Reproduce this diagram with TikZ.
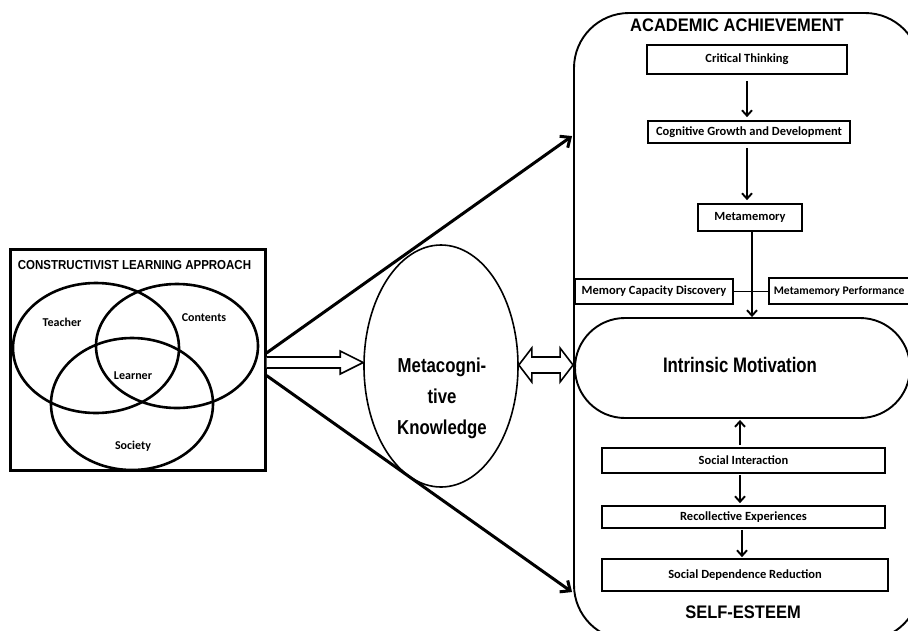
\documentclass[tikz,border=0pt]{standalone}
\usepackage{graphicx}
\usepackage{fontspec}
\setmainfont{Liberation Sans}
\newfontfamily\calfont{Carlito}
\usetikzlibrary{shapes.geometric,arrows.meta,calc}
\begin{document}
\begin{tikzpicture}[x=1pt,y=-1pt,
  box/.style={draw, line width=1.7pt, inner sep=0pt, font=\calfont\bfseries\fontsize{12.5}{14}\selectfont},
  head/.style={font=\bfseries\fontsize{16.5}{18}\selectfont},
  arr/.style={line width=1.9pt, -{Straight Barb[length=5.5pt,width=10pt]}},
  diag/.style={line width=3pt, -{Straight Barb[length=8pt,width=14pt]}},
  hollow/.style={draw, fill=white, line width=1.6pt, line join=miter},
  venn/.style={draw, ellipse, line width=2.6pt, inner sep=0pt},
  vlab/.style={font=\calfont\bfseries\fontsize{12}{14}\selectfont}]
\fill[white] (0,0) rectangle (908,630);
\clip (0,0) rectangle (908,630);

% ---- left block
\node[draw, line width=3pt, minimum width=255pt, minimum height=221pt, inner sep=0pt] (lb) at (137.5,359.5) {};
\node[font=\bfseries\fontsize{11.5}{13}\selectfont] (lbt) at (134.5,265) {\scalebox{1}[1.13]{CONSTRUCTIVIST LEARNING APPROACH}};
\node[venn, minimum width=166pt, minimum height=130pt] (tv) at (96,348) {};
\node[venn, minimum width=162pt, minimum height=124pt] (cv) at (177,346) {};
\node[venn, minimum width=162pt, minimum height=132pt] (sv) at (132,404) {};
\node[vlab] (tl) at (62,322) {Teacher};
\node[vlab] (cl) at (204,318) {Contents};
\node[vlab] (ll) at (133,376) {Learner};
\node[vlab] (sl) at (133,446) {Society};

% ---- metacognitive knowledge
\node[draw, ellipse, line width=1.6pt, minimum width=154pt, minimum height=242pt, inner sep=0pt] (mk) at (441,366) {};
\node[align=center, font=\bfseries\fontsize{16.8}{31}\selectfont] (mkt) at (442,398)
  {\scalebox{1}[1.2]{Metacogni-}\\\scalebox{1}[1.2]{tive}\\\scalebox{1}[1.2]{Knowledge}};

% ---- right block
\node[draw, line width=1.9pt, rounded corners=55pt, minimum width=346pt, minimum height=627pt, inner sep=0pt] (ar) at (747,326.5) {};
\node[head] (aat) at (737,25) {\scalebox{1}[1.1]{ACADEMIC ACHIEVEMENT}};
\node[box, minimum width=200pt, minimum height=29pt] (ct) at (747,59.5) {Critical Thinking};
\node[box, minimum width=202pt, minimum height=22pt] (cg) at (749,132) {Cognitive Growth and Development};
\node[box, minimum width=104pt, minimum height=27pt] (mm) at (750,217.5) {Metamemory};
\node[box, minimum width=158pt, minimum height=25pt] (mcd) at (654,291.5) {Memory Capacity Discovery};
\node[box, minimum width=146pt, minimum height=26pt] (mp) at (842,291) {};
\node[box, anchor=west, draw=none, font=\calfont\bfseries\fontsize{11.6}{14}\selectfont] (mpt) at (773,291) {Metamemory Performance};
\node[draw, line width=1.9pt, rounded corners=50pt, minimum width=335pt, minimum height=100pt, inner sep=0pt] (im) at (742.5,368) {};
\node[font=\bfseries\fontsize{16.8}{18}\selectfont] (imt) at (740,365) {\scalebox{1}[1.25]{Intrinsic Motivation}};
\node[box, minimum width=283pt, minimum height=25pt] (si) at (743.5,460.5) {Social Interaction};
\node[box, minimum width=283pt, minimum height=22pt] (re) at (743.5,517) {Recollective Experiences};
\node[box, minimum width=286pt, minimum height=32pt] (sd) at (745,575) {Social Dependence Reduction};
\node[head] (set) at (743,612) {\scalebox{1}[1.1]{SELF-ESTEEM}};

% ---- connectors inside right block
\draw[arr, shorten <=6pt, shorten >=3pt] (ct.south) -- (cg.north -| ct.south);
\draw[arr, shorten <=4pt, shorten >=3pt] (cg.south -| ct.south) -- (mm.north -| ct.south);
\draw[arr] ($(mm.south)+(2,0)$) -- ($(mm.south |- im.north)+(2,0)$);
\draw[line width=1.9pt] (mcd.east) -- (mcd.east -| mp.west);
\draw[arr, shorten <=2pt, shorten >=1pt] ($(si.north)+(-3.5,0)$) -- ($(si.north |- im.south)+(-3.5,0)$);
\draw[arr, shorten <=1pt, shorten >=2pt] ($(si.south)+(-3.5,0)$) -- ($(re.north)+(-3.5,0)$);
\draw[arr, shorten <=1pt, shorten >=1pt] ($(re.south)+(-1.5,0)$) -- ($(sd.north)+(-3,0)$);

% ---- diagonal arrows
\draw[diag] ($(lb.east)+(0,-6.5)$) -- ($(ar.north west)+(-1,124)$);
\draw[diag] ($(lb.east)+(0,16)$) -- ($(ar.north west)+(-1,580)$);

% ---- hollow arrow: left block -> metacognitive knowledge
\coordinate (ha) at ($(lb.east)+(0,3)$);
\coordinate (hb) at (mk.west |- ha);
\draw[hollow] ($(ha)+(0,-5.5)$) -- ($(hb)+(-23,-5.5)$) -- ($(hb)+(-23,-11.5)$) -- (hb)
  -- ($(hb)+(-23,11.5)$) -- ($(hb)+(-23,5.5)$) -- ($(ha)+(0,5.5)$);

% ---- hollow double arrow: metacognitive knowledge <-> right block
\coordinate (da) at ($(mk.east)+(0,-1)$);
\coordinate (db) at (da -| ar.west);
\draw[hollow] (da) -- ($(da)+(13,-17)$) -- ($(da)+(13,-8)$) -- ($(db)+(-13,-8)$) -- ($(db)+(-13,-17)$)
  -- (db) -- ($(db)+(-13,17)$) -- ($(db)+(-13,8)$) -- ($(da)+(13,8)$) -- ($(da)+(13,17)$) -- cycle;
\end{tikzpicture}
\end{document}
